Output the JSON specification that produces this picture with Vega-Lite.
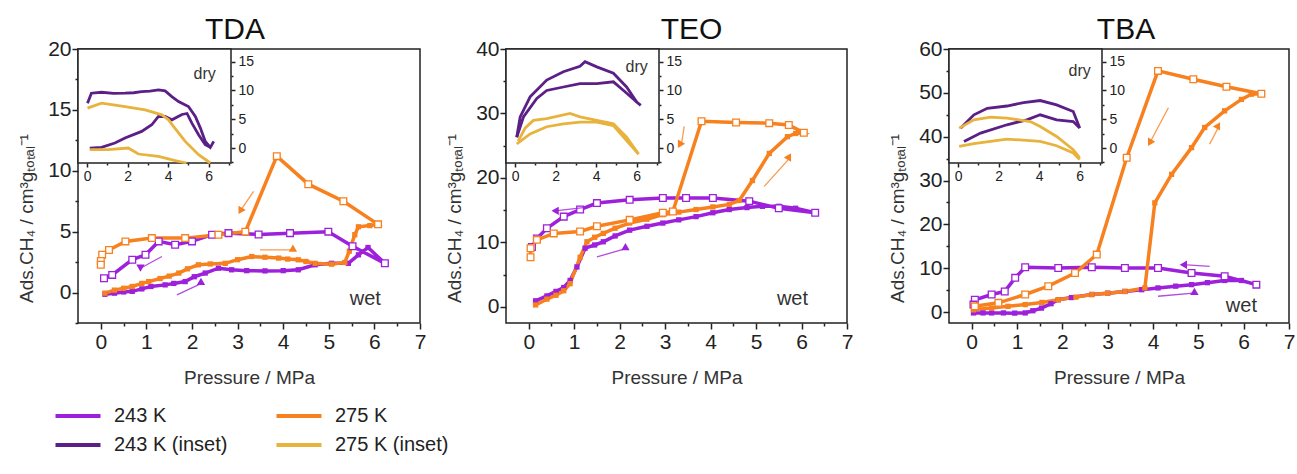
{
"$schema": "https://vega.github.io/schema/vega-lite/v6.json",
"background": "white",
"padding": {"left": 16, "top": 14, "right": 0, "bottom": 5},
"config": {
  "font": "Liberation Sans",
  "view": {"stroke": "#222", "strokeWidth": 1.5},
  "axis": {"grid": false, "domain": false, "labelFont": "Liberation Sans", "titleFont": "Liberation Sans", "labelColor": "#222", "titleColor": "#333", "tickColor": "#222", "tickWidth": 1.5, "titleFontWeight": "normal", "labelOverlap": false, "labelFlush": false},
  "title": {"font": "Liberation Sans", "fontWeight": "normal", "fontSize": 30, "color": "#111", "frame": "group", "offset": -7}
},
"datasets": {
"main": [
{"panel":"TDA","series":"243 K","branch":"ads","idx":0,"x":0.09,"y":-0.14},
{"panel":"TDA","series":"243 K","branch":"ads","idx":1,"x":0.3,"y":-0.05},
{"panel":"TDA","series":"243 K","branch":"ads","idx":2,"x":0.5,"y":0.05},
{"panel":"TDA","series":"243 K","branch":"ads","idx":3,"x":0.69,"y":0.1},
{"panel":"TDA","series":"243 K","branch":"ads","idx":4,"x":0.9,"y":0.3},
{"panel":"TDA","series":"243 K","branch":"ads","idx":5,"x":1.1,"y":0.5},
{"panel":"TDA","series":"243 K","branch":"ads","idx":6,"x":1.41,"y":0.63},
{"panel":"TDA","series":"243 K","branch":"ads","idx":7,"x":1.6,"y":0.75},
{"panel":"TDA","series":"243 K","branch":"ads","idx":8,"x":1.85,"y":0.9},
{"panel":"TDA","series":"243 K","branch":"ads","idx":9,"x":2.05,"y":1.3},
{"panel":"TDA","series":"243 K","branch":"ads","idx":10,"x":2.29,"y":1.6},
{"panel":"TDA","series":"243 K","branch":"ads","idx":11,"x":2.58,"y":2.0},
{"panel":"TDA","series":"243 K","branch":"ads","idx":12,"x":2.87,"y":1.87},
{"panel":"TDA","series":"243 K","branch":"ads","idx":13,"x":3.2,"y":1.8},
{"panel":"TDA","series":"243 K","branch":"ads","idx":14,"x":3.6,"y":1.78},
{"panel":"TDA","series":"243 K","branch":"ads","idx":15,"x":4.0,"y":1.8},
{"panel":"TDA","series":"243 K","branch":"ads","idx":16,"x":4.33,"y":1.87},
{"panel":"TDA","series":"243 K","branch":"ads","idx":17,"x":4.7,"y":2.28},
{"panel":"TDA","series":"243 K","branch":"ads","idx":18,"x":5.06,"y":2.4},
{"panel":"TDA","series":"243 K","branch":"ads","idx":19,"x":5.43,"y":2.4},
{"panel":"TDA","series":"243 K","branch":"ads","idx":20,"x":5.65,"y":3.1},
{"panel":"TDA","series":"243 K","branch":"ads","idx":21,"x":5.86,"y":3.7},
{"panel":"TDA","series":"243 K","branch":"des","idx":22,"x":6.23,"y":2.4},
{"panel":"TDA","series":"243 K","branch":"des","idx":23,"x":5.52,"y":3.8},
{"panel":"TDA","series":"243 K","branch":"des","idx":24,"x":4.99,"y":5.0},
{"panel":"TDA","series":"243 K","branch":"des","idx":25,"x":4.15,"y":4.88},
{"panel":"TDA","series":"243 K","branch":"des","idx":26,"x":3.46,"y":4.77},
{"panel":"TDA","series":"243 K","branch":"des","idx":27,"x":2.8,"y":4.88},
{"panel":"TDA","series":"243 K","branch":"des","idx":28,"x":2.44,"y":4.75},
{"panel":"TDA","series":"243 K","branch":"des","idx":29,"x":2.0,"y":4.2},
{"panel":"TDA","series":"243 K","branch":"des","idx":30,"x":1.63,"y":3.92},
{"panel":"TDA","series":"243 K","branch":"des","idx":31,"x":1.27,"y":4.2},
{"panel":"TDA","series":"243 K","branch":"des","idx":32,"x":0.98,"y":3.1},
{"panel":"TDA","series":"243 K","branch":"des","idx":33,"x":0.69,"y":2.7},
{"panel":"TDA","series":"243 K","branch":"des","idx":34,"x":0.25,"y":1.45},
{"panel":"TDA","series":"243 K","branch":"des","idx":35,"x":0.07,"y":1.18},
{"panel":"TDA","series":"275 K","branch":"ads","idx":0,"x":0.09,"y":-0.05},
{"panel":"TDA","series":"275 K","branch":"ads","idx":1,"x":0.3,"y":0.2},
{"panel":"TDA","series":"275 K","branch":"ads","idx":2,"x":0.5,"y":0.35},
{"panel":"TDA","series":"275 K","branch":"ads","idx":3,"x":0.69,"y":0.5},
{"panel":"TDA","series":"275 K","branch":"ads","idx":4,"x":0.9,"y":0.75},
{"panel":"TDA","series":"275 K","branch":"ads","idx":5,"x":1.05,"y":0.9},
{"panel":"TDA","series":"275 K","branch":"ads","idx":6,"x":1.3,"y":1.15},
{"panel":"TDA","series":"275 K","branch":"ads","idx":7,"x":1.5,"y":1.35},
{"panel":"TDA","series":"275 K","branch":"ads","idx":8,"x":1.71,"y":1.6},
{"panel":"TDA","series":"275 K","branch":"ads","idx":9,"x":1.9,"y":1.95},
{"panel":"TDA","series":"275 K","branch":"ads","idx":10,"x":2.14,"y":2.28},
{"panel":"TDA","series":"275 K","branch":"ads","idx":11,"x":2.4,"y":2.35},
{"panel":"TDA","series":"275 K","branch":"ads","idx":12,"x":2.73,"y":2.4},
{"panel":"TDA","series":"275 K","branch":"ads","idx":13,"x":3.0,"y":2.7},
{"panel":"TDA","series":"275 K","branch":"ads","idx":14,"x":3.31,"y":2.96},
{"panel":"TDA","series":"275 K","branch":"ads","idx":15,"x":3.6,"y":2.9},
{"panel":"TDA","series":"275 K","branch":"ads","idx":16,"x":3.9,"y":2.83},
{"panel":"TDA","series":"275 K","branch":"ads","idx":17,"x":4.1,"y":2.75},
{"panel":"TDA","series":"275 K","branch":"ads","idx":18,"x":4.33,"y":2.69},
{"panel":"TDA","series":"275 K","branch":"ads","idx":19,"x":4.5,"y":2.55},
{"panel":"TDA","series":"275 K","branch":"ads","idx":20,"x":4.7,"y":2.4},
{"panel":"TDA","series":"275 K","branch":"ads","idx":21,"x":5.06,"y":2.33},
{"panel":"TDA","series":"275 K","branch":"ads","idx":22,"x":5.35,"y":2.47},
{"panel":"TDA","series":"275 K","branch":"ads","idx":23,"x":5.45,"y":3.4},
{"panel":"TDA","series":"275 K","branch":"ads","idx":24,"x":5.57,"y":4.75},
{"panel":"TDA","series":"275 K","branch":"ads","idx":25,"x":5.65,"y":5.4},
{"panel":"TDA","series":"275 K","branch":"ads","idx":26,"x":5.9,"y":5.5},
{"panel":"TDA","series":"275 K","branch":"des","idx":27,"x":6.08,"y":5.6},
{"panel":"TDA","series":"275 K","branch":"des","idx":28,"x":5.32,"y":7.5},
{"panel":"TDA","series":"275 K","branch":"des","idx":29,"x":4.55,"y":8.9},
{"panel":"TDA","series":"275 K","branch":"des","idx":30,"x":3.86,"y":11.2},
{"panel":"TDA","series":"275 K","branch":"des","idx":31,"x":3.17,"y":5.0},
{"panel":"TDA","series":"275 K","branch":"des","idx":32,"x":2.58,"y":4.75},
{"panel":"TDA","series":"275 K","branch":"des","idx":33,"x":1.85,"y":4.47},
{"panel":"TDA","series":"275 K","branch":"des","idx":34,"x":1.12,"y":4.47},
{"panel":"TDA","series":"275 K","branch":"des","idx":35,"x":0.54,"y":4.2},
{"panel":"TDA","series":"275 K","branch":"des","idx":36,"x":0.18,"y":3.5},
{"panel":"TDA","series":"275 K","branch":"des","idx":37,"x":0.03,"y":3.1},
{"panel":"TDA","series":"275 K","branch":"des","idx":38,"x":0.0,"y":2.6},
{"panel":"TDA","series":"275 K","branch":"des","idx":39,"x":0.0,"y":2.28},
{"panel":"TEO","series":"243 K","branch":"ads","idx":0,"x":0.15,"y":0.94},
{"panel":"TEO","series":"243 K","branch":"ads","idx":1,"x":0.4,"y":1.7},
{"panel":"TEO","series":"243 K","branch":"ads","idx":2,"x":0.6,"y":2.4},
{"panel":"TEO","series":"243 K","branch":"ads","idx":3,"x":0.77,"y":3.0},
{"panel":"TEO","series":"243 K","branch":"ads","idx":4,"x":0.91,"y":4.1},
{"panel":"TEO","series":"243 K","branch":"ads","idx":5,"x":1.06,"y":6.2},
{"panel":"TEO","series":"243 K","branch":"ads","idx":6,"x":1.24,"y":9.1},
{"panel":"TEO","series":"243 K","branch":"ads","idx":7,"x":1.45,"y":9.6},
{"panel":"TEO","series":"243 K","branch":"ads","idx":8,"x":1.64,"y":10.1},
{"panel":"TEO","series":"243 K","branch":"ads","idx":9,"x":1.9,"y":11.0},
{"panel":"TEO","series":"243 K","branch":"ads","idx":10,"x":2.22,"y":11.9},
{"panel":"TEO","series":"243 K","branch":"ads","idx":11,"x":2.6,"y":12.5},
{"panel":"TEO","series":"243 K","branch":"ads","idx":12,"x":2.95,"y":13.0},
{"panel":"TEO","series":"243 K","branch":"ads","idx":13,"x":3.3,"y":13.5},
{"panel":"TEO","series":"243 K","branch":"ads","idx":14,"x":3.68,"y":14.0},
{"panel":"TEO","series":"243 K","branch":"ads","idx":15,"x":4.05,"y":14.6},
{"panel":"TEO","series":"243 K","branch":"ads","idx":16,"x":4.41,"y":15.1},
{"panel":"TEO","series":"243 K","branch":"ads","idx":17,"x":4.8,"y":15.4},
{"panel":"TEO","series":"243 K","branch":"ads","idx":18,"x":5.14,"y":15.6},
{"panel":"TEO","series":"243 K","branch":"ads","idx":19,"x":5.5,"y":15.6},
{"panel":"TEO","series":"243 K","branch":"ads","idx":20,"x":5.87,"y":15.3},
{"panel":"TEO","series":"243 K","branch":"des","idx":21,"x":6.3,"y":14.6},
{"panel":"TEO","series":"243 K","branch":"des","idx":22,"x":5.5,"y":15.3},
{"panel":"TEO","series":"243 K","branch":"des","idx":23,"x":4.85,"y":16.4},
{"panel":"TEO","series":"243 K","branch":"des","idx":24,"x":4.05,"y":16.9},
{"panel":"TEO","series":"243 K","branch":"des","idx":25,"x":3.46,"y":16.9},
{"panel":"TEO","series":"243 K","branch":"des","idx":26,"x":2.95,"y":16.9},
{"panel":"TEO","series":"243 K","branch":"des","idx":27,"x":2.22,"y":16.6},
{"panel":"TEO","series":"243 K","branch":"des","idx":28,"x":1.5,"y":16.1},
{"panel":"TEO","series":"243 K","branch":"des","idx":29,"x":1.13,"y":15.1},
{"panel":"TEO","series":"243 K","branch":"des","idx":30,"x":0.77,"y":14.0},
{"panel":"TEO","series":"243 K","branch":"des","idx":31,"x":0.4,"y":12.2},
{"panel":"TEO","series":"243 K","branch":"des","idx":32,"x":0.18,"y":10.6},
{"panel":"TEO","series":"243 K","branch":"des","idx":33,"x":0.07,"y":9.3},
{"panel":"TEO","series":"275 K","branch":"ads","idx":0,"x":0.15,"y":0.3},
{"panel":"TEO","series":"275 K","branch":"ads","idx":1,"x":0.4,"y":1.2},
{"panel":"TEO","series":"275 K","branch":"ads","idx":2,"x":0.6,"y":1.8},
{"panel":"TEO","series":"275 K","branch":"ads","idx":3,"x":0.77,"y":2.5},
{"panel":"TEO","series":"275 K","branch":"ads","idx":4,"x":0.91,"y":3.6},
{"panel":"TEO","series":"275 K","branch":"ads","idx":5,"x":1.13,"y":7.7},
{"panel":"TEO","series":"275 K","branch":"ads","idx":6,"x":1.28,"y":10.1},
{"panel":"TEO","series":"275 K","branch":"ads","idx":7,"x":1.45,"y":10.8},
{"panel":"TEO","series":"275 K","branch":"ads","idx":8,"x":1.64,"y":11.4},
{"panel":"TEO","series":"275 K","branch":"ads","idx":9,"x":1.9,"y":12.2},
{"panel":"TEO","series":"275 K","branch":"ads","idx":10,"x":2.22,"y":13.0},
{"panel":"TEO","series":"275 K","branch":"ads","idx":11,"x":2.6,"y":13.6},
{"panel":"TEO","series":"275 K","branch":"ads","idx":12,"x":2.95,"y":14.3},
{"panel":"TEO","series":"275 K","branch":"ads","idx":13,"x":3.3,"y":14.7},
{"panel":"TEO","series":"275 K","branch":"ads","idx":14,"x":3.68,"y":15.1},
{"panel":"TEO","series":"275 K","branch":"ads","idx":15,"x":4.05,"y":15.5},
{"panel":"TEO","series":"275 K","branch":"ads","idx":16,"x":4.41,"y":15.9},
{"panel":"TEO","series":"275 K","branch":"ads","idx":17,"x":4.63,"y":16.5},
{"panel":"TEO","series":"275 K","branch":"ads","idx":18,"x":4.92,"y":19.6},
{"panel":"TEO","series":"275 K","branch":"ads","idx":19,"x":5.29,"y":23.8},
{"panel":"TEO","series":"275 K","branch":"ads","idx":20,"x":5.69,"y":26.4},
{"panel":"TEO","series":"275 K","branch":"ads","idx":21,"x":5.87,"y":26.9},
{"panel":"TEO","series":"275 K","branch":"des","idx":22,"x":6.05,"y":27.0},
{"panel":"TEO","series":"275 K","branch":"des","idx":23,"x":5.72,"y":28.2},
{"panel":"TEO","series":"275 K","branch":"des","idx":24,"x":5.29,"y":28.5},
{"panel":"TEO","series":"275 K","branch":"des","idx":25,"x":4.56,"y":28.6},
{"panel":"TEO","series":"275 K","branch":"des","idx":26,"x":3.8,"y":28.8},
{"panel":"TEO","series":"275 K","branch":"des","idx":27,"x":3.17,"y":14.8},
{"panel":"TEO","series":"275 K","branch":"des","idx":28,"x":2.95,"y":14.6},
{"panel":"TEO","series":"275 K","branch":"des","idx":29,"x":2.22,"y":13.5},
{"panel":"TEO","series":"275 K","branch":"des","idx":30,"x":1.5,"y":12.5},
{"panel":"TEO","series":"275 K","branch":"des","idx":31,"x":1.13,"y":11.7},
{"panel":"TEO","series":"275 K","branch":"des","idx":32,"x":0.55,"y":11.4},
{"panel":"TEO","series":"275 K","branch":"des","idx":33,"x":0.18,"y":10.4},
{"panel":"TEO","series":"275 K","branch":"des","idx":34,"x":0.04,"y":9.1},
{"panel":"TEO","series":"275 K","branch":"des","idx":35,"x":0.04,"y":7.7},
{"panel":"TBA","series":"243 K","branch":"ads","idx":0,"x":0.04,"y":-0.2},
{"panel":"TBA","series":"243 K","branch":"ads","idx":1,"x":0.25,"y":-0.2},
{"panel":"TBA","series":"243 K","branch":"ads","idx":2,"x":0.44,"y":-0.2},
{"panel":"TBA","series":"243 K","branch":"ads","idx":3,"x":0.7,"y":-0.2},
{"panel":"TBA","series":"243 K","branch":"ads","idx":4,"x":0.95,"y":-0.25},
{"panel":"TBA","series":"243 K","branch":"ads","idx":5,"x":1.18,"y":-0.2},
{"panel":"TBA","series":"243 K","branch":"ads","idx":6,"x":1.35,"y":0.3},
{"panel":"TBA","series":"243 K","branch":"ads","idx":7,"x":1.54,"y":0.9},
{"panel":"TBA","series":"243 K","branch":"ads","idx":8,"x":1.75,"y":1.9},
{"panel":"TBA","series":"243 K","branch":"ads","idx":9,"x":1.91,"y":2.8},
{"panel":"TBA","series":"243 K","branch":"ads","idx":10,"x":2.2,"y":3.3},
{"panel":"TBA","series":"243 K","branch":"ads","idx":11,"x":2.65,"y":4.0},
{"panel":"TBA","series":"243 K","branch":"ads","idx":12,"x":3.0,"y":4.3},
{"panel":"TBA","series":"243 K","branch":"ads","idx":13,"x":3.38,"y":4.7},
{"panel":"TBA","series":"243 K","branch":"ads","idx":14,"x":3.75,"y":5.1},
{"panel":"TBA","series":"243 K","branch":"ads","idx":15,"x":4.11,"y":5.5},
{"panel":"TBA","series":"243 K","branch":"ads","idx":16,"x":4.5,"y":5.9},
{"panel":"TBA","series":"243 K","branch":"ads","idx":17,"x":4.85,"y":6.25},
{"panel":"TBA","series":"243 K","branch":"ads","idx":18,"x":5.2,"y":6.7},
{"panel":"TBA","series":"243 K","branch":"ads","idx":19,"x":5.58,"y":7.2},
{"panel":"TBA","series":"243 K","branch":"ads","idx":20,"x":5.95,"y":7.2},
{"panel":"TBA","series":"243 K","branch":"des","idx":21,"x":6.28,"y":6.25},
{"panel":"TBA","series":"243 K","branch":"des","idx":22,"x":5.58,"y":8.15},
{"panel":"TBA","series":"243 K","branch":"des","idx":23,"x":4.85,"y":8.9},
{"panel":"TBA","series":"243 K","branch":"des","idx":24,"x":4.11,"y":10.06},
{"panel":"TBA","series":"243 K","branch":"des","idx":25,"x":3.38,"y":10.06},
{"panel":"TBA","series":"243 K","branch":"des","idx":26,"x":2.65,"y":10.2},
{"panel":"TBA","series":"243 K","branch":"des","idx":27,"x":1.91,"y":10.06},
{"panel":"TBA","series":"243 K","branch":"des","idx":28,"x":1.18,"y":10.2},
{"panel":"TBA","series":"243 K","branch":"des","idx":29,"x":0.96,"y":7.8},
{"panel":"TBA","series":"243 K","branch":"des","idx":30,"x":0.73,"y":4.7},
{"panel":"TBA","series":"243 K","branch":"des","idx":31,"x":0.44,"y":4.0},
{"panel":"TBA","series":"243 K","branch":"des","idx":32,"x":0.07,"y":2.8},
{"panel":"TBA","series":"243 K","branch":"des","idx":33,"x":0.04,"y":1.7},
{"panel":"TBA","series":"275 K","branch":"ads","idx":0,"x":0.04,"y":0.5},
{"panel":"TBA","series":"275 K","branch":"ads","idx":1,"x":0.44,"y":0.9},
{"panel":"TBA","series":"275 K","branch":"ads","idx":2,"x":0.8,"y":1.3},
{"panel":"TBA","series":"275 K","branch":"ads","idx":3,"x":1.18,"y":1.7},
{"panel":"TBA","series":"275 K","branch":"ads","idx":4,"x":1.55,"y":2.2},
{"panel":"TBA","series":"275 K","branch":"ads","idx":5,"x":1.91,"y":2.8},
{"panel":"TBA","series":"275 K","branch":"ads","idx":6,"x":2.3,"y":3.4},
{"panel":"TBA","series":"275 K","branch":"ads","idx":7,"x":2.65,"y":4.0},
{"panel":"TBA","series":"275 K","branch":"ads","idx":8,"x":3.0,"y":4.3},
{"panel":"TBA","series":"275 K","branch":"ads","idx":9,"x":3.38,"y":4.7},
{"panel":"TBA","series":"275 K","branch":"ads","idx":10,"x":3.82,"y":5.5},
{"panel":"TBA","series":"275 K","branch":"ads","idx":11,"x":4.04,"y":24.9},
{"panel":"TBA","series":"275 K","branch":"ads","idx":12,"x":4.41,"y":31.4},
{"panel":"TBA","series":"275 K","branch":"ads","idx":13,"x":4.85,"y":37.5},
{"panel":"TBA","series":"275 K","branch":"ads","idx":14,"x":5.14,"y":42.1},
{"panel":"TBA","series":"275 K","branch":"ads","idx":15,"x":5.58,"y":45.9},
{"panel":"TBA","series":"275 K","branch":"ads","idx":16,"x":5.95,"y":48.5},
{"panel":"TBA","series":"275 K","branch":"ads","idx":17,"x":6.17,"y":49.7},
{"panel":"TBA","series":"275 K","branch":"des","idx":18,"x":6.39,"y":49.8},
{"panel":"TBA","series":"275 K","branch":"des","idx":19,"x":5.62,"y":51.4},
{"panel":"TBA","series":"275 K","branch":"des","idx":20,"x":4.89,"y":53.1},
{"panel":"TBA","series":"275 K","branch":"des","idx":21,"x":4.11,"y":55.0},
{"panel":"TBA","series":"275 K","branch":"des","idx":22,"x":3.42,"y":35.2},
{"panel":"TBA","series":"275 K","branch":"des","idx":23,"x":2.76,"y":13.1},
{"panel":"TBA","series":"275 K","branch":"des","idx":24,"x":2.28,"y":8.9},
{"panel":"TBA","series":"275 K","branch":"des","idx":25,"x":1.69,"y":5.9},
{"panel":"TBA","series":"275 K","branch":"des","idx":26,"x":1.18,"y":4.0},
{"panel":"TBA","series":"275 K","branch":"des","idx":27,"x":0.59,"y":2.1},
{"panel":"TBA","series":"275 K","branch":"des","idx":28,"x":0.07,"y":1.3}
],
"inset": [
{"panel":"TDA","series":"243 K (inset)","branch":"upper","idx":0,"x":0.02,"y":7.79},
{"panel":"TDA","series":"243 K (inset)","branch":"upper","idx":1,"x":0.21,"y":9.52},
{"panel":"TDA","series":"243 K (inset)","branch":"upper","idx":2,"x":0.71,"y":9.69},
{"panel":"TDA","series":"243 K (inset)","branch":"upper","idx":3,"x":1.3,"y":9.5},
{"panel":"TDA","series":"243 K (inset)","branch":"upper","idx":4,"x":1.87,"y":9.52},
{"panel":"TDA","series":"243 K (inset)","branch":"upper","idx":5,"x":2.3,"y":9.6},
{"panel":"TDA","series":"243 K (inset)","branch":"upper","idx":6,"x":2.69,"y":9.81},
{"panel":"TDA","series":"243 K (inset)","branch":"upper","idx":7,"x":3.1,"y":9.9},
{"panel":"TDA","series":"243 K (inset)","branch":"upper","idx":8,"x":3.52,"y":10.1},
{"panel":"TDA","series":"243 K (inset)","branch":"upper","idx":9,"x":3.85,"y":9.92},
{"panel":"TDA","series":"243 K (inset)","branch":"upper","idx":10,"x":4.18,"y":8.94},
{"panel":"TDA","series":"243 K (inset)","branch":"upper","idx":11,"x":4.51,"y":8.08},
{"panel":"TDA","series":"243 K (inset)","branch":"upper","idx":12,"x":5.0,"y":7.21},
{"panel":"TDA","series":"243 K (inset)","branch":"upper","idx":13,"x":5.34,"y":5.48},
{"panel":"TDA","series":"243 K (inset)","branch":"upper","idx":14,"x":5.59,"y":3.46},
{"panel":"TDA","series":"243 K (inset)","branch":"upper","idx":15,"x":5.83,"y":1.15},
{"panel":"TDA","series":"243 K (inset)","branch":"upper","idx":16,"x":6.08,"y":0.12},
{"panel":"TDA","series":"243 K (inset)","branch":"upper","idx":17,"x":6.25,"y":1.15},
{"panel":"TDA","series":"243 K (inset)","branch":"lower","idx":0,"x":0.13,"y":0},
{"panel":"TDA","series":"243 K (inset)","branch":"lower","idx":1,"x":0.71,"y":0.12},
{"panel":"TDA","series":"243 K (inset)","branch":"lower","idx":2,"x":1.37,"y":0.87},
{"panel":"TDA","series":"243 K (inset)","branch":"lower","idx":3,"x":1.87,"y":1.73},
{"panel":"TDA","series":"243 K (inset)","branch":"lower","idx":4,"x":2.69,"y":2.89},
{"panel":"TDA","series":"243 K (inset)","branch":"lower","idx":5,"x":3.19,"y":4.04},
{"panel":"TDA","series":"243 K (inset)","branch":"lower","idx":6,"x":3.52,"y":5.48},
{"panel":"TDA","series":"243 K (inset)","branch":"lower","idx":7,"x":3.85,"y":5.48},
{"panel":"TDA","series":"243 K (inset)","branch":"lower","idx":8,"x":4.18,"y":4.9},
{"panel":"TDA","series":"243 K (inset)","branch":"lower","idx":9,"x":4.68,"y":5.83},
{"panel":"TDA","series":"243 K (inset)","branch":"lower","idx":10,"x":4.93,"y":6.0},
{"panel":"TDA","series":"243 K (inset)","branch":"lower","idx":11,"x":5.17,"y":4.33},
{"panel":"TDA","series":"243 K (inset)","branch":"lower","idx":12,"x":5.5,"y":2.31},
{"panel":"TDA","series":"243 K (inset)","branch":"lower","idx":13,"x":5.83,"y":0.58},
{"panel":"TDA","series":"243 K (inset)","branch":"lower","idx":14,"x":6.08,"y":0.12},
{"panel":"TDA","series":"275 K (inset)","branch":"upper","idx":0,"x":0.02,"y":6.92},
{"panel":"TDA","series":"275 K (inset)","branch":"upper","idx":1,"x":0.71,"y":7.79},
{"panel":"TDA","series":"275 K (inset)","branch":"upper","idx":2,"x":1.3,"y":7.5},
{"panel":"TDA","series":"275 K (inset)","branch":"upper","idx":3,"x":1.87,"y":7.21},
{"panel":"TDA","series":"275 K (inset)","branch":"upper","idx":4,"x":2.86,"y":6.64},
{"panel":"TDA","series":"275 K (inset)","branch":"upper","idx":5,"x":3.69,"y":5.77},
{"panel":"TDA","series":"275 K (inset)","branch":"upper","idx":6,"x":4.02,"y":4.9},
{"panel":"TDA","series":"275 K (inset)","branch":"upper","idx":7,"x":4.26,"y":3.75},
{"panel":"TDA","series":"275 K (inset)","branch":"upper","idx":8,"x":4.84,"y":1.15},
{"panel":"TDA","series":"275 K (inset)","branch":"upper","idx":9,"x":5.5,"y":-1.15},
{"panel":"TDA","series":"275 K (inset)","branch":"upper","idx":10,"x":6.08,"y":-2.6},
{"panel":"TDA","series":"275 K (inset)","branch":"lower","idx":0,"x":0.13,"y":-0.29},
{"panel":"TDA","series":"275 K (inset)","branch":"lower","idx":1,"x":1.04,"y":-0.29},
{"panel":"TDA","series":"275 K (inset)","branch":"lower","idx":2,"x":2.03,"y":0},
{"panel":"TDA","series":"275 K (inset)","branch":"lower","idx":3,"x":2.53,"y":-1.04},
{"panel":"TDA","series":"275 K (inset)","branch":"lower","idx":4,"x":3.52,"y":-1.44},
{"panel":"TDA","series":"275 K (inset)","branch":"lower","idx":5,"x":4.35,"y":-2.19},
{"panel":"TDA","series":"275 K (inset)","branch":"lower","idx":6,"x":4.9,"y":-2.6},
{"panel":"TEO","series":"243 K (inset)","branch":"upper","idx":0,"x":0.08,"y":1.87},
{"panel":"TEO","series":"243 K (inset)","branch":"upper","idx":1,"x":0.25,"y":5.4},
{"panel":"TEO","series":"243 K (inset)","branch":"upper","idx":2,"x":0.74,"y":8.9},
{"panel":"TEO","series":"243 K (inset)","branch":"upper","idx":3,"x":1.56,"y":11.8},
{"panel":"TEO","series":"243 K (inset)","branch":"upper","idx":4,"x":2.38,"y":13.25},
{"panel":"TEO","series":"243 K (inset)","branch":"upper","idx":5,"x":3.2,"y":14.2},
{"panel":"TEO","series":"243 K (inset)","branch":"upper","idx":6,"x":3.45,"y":15.0},
{"panel":"TEO","series":"243 K (inset)","branch":"upper","idx":7,"x":4.03,"y":14.1},
{"panel":"TEO","series":"243 K (inset)","branch":"upper","idx":8,"x":4.85,"y":13.0},
{"panel":"TEO","series":"243 K (inset)","branch":"upper","idx":9,"x":5.5,"y":10.6},
{"panel":"TEO","series":"243 K (inset)","branch":"upper","idx":10,"x":6.0,"y":8.0},
{"panel":"TEO","series":"243 K (inset)","branch":"upper","idx":11,"x":6.2,"y":7.4},
{"panel":"TEO","series":"243 K (inset)","branch":"lower","idx":0,"x":0.08,"y":1.87},
{"panel":"TEO","series":"243 K (inset)","branch":"lower","idx":1,"x":0.41,"y":5.4},
{"panel":"TEO","series":"243 K (inset)","branch":"lower","idx":2,"x":1.07,"y":8.6},
{"panel":"TEO","series":"243 K (inset)","branch":"lower","idx":3,"x":1.56,"y":10.0},
{"panel":"TEO","series":"243 K (inset)","branch":"lower","idx":4,"x":2.38,"y":10.6},
{"panel":"TEO","series":"243 K (inset)","branch":"lower","idx":5,"x":3.2,"y":11.2},
{"panel":"TEO","series":"243 K (inset)","branch":"lower","idx":6,"x":4.03,"y":11.2},
{"panel":"TEO","series":"243 K (inset)","branch":"lower","idx":7,"x":4.85,"y":11.5},
{"panel":"TEO","series":"243 K (inset)","branch":"lower","idx":8,"x":5.35,"y":10.0},
{"panel":"TEO","series":"243 K (inset)","branch":"lower","idx":9,"x":6.0,"y":8.0},
{"panel":"TEO","series":"275 K (inset)","branch":"upper","idx":0,"x":0.15,"y":1.2},
{"panel":"TEO","series":"275 K (inset)","branch":"upper","idx":1,"x":0.5,"y":3.5},
{"panel":"TEO","series":"275 K (inset)","branch":"upper","idx":2,"x":0.9,"y":4.8},
{"panel":"TEO","series":"275 K (inset)","branch":"upper","idx":3,"x":1.56,"y":5.1},
{"panel":"TEO","series":"275 K (inset)","branch":"upper","idx":4,"x":2.71,"y":6.0},
{"panel":"TEO","series":"275 K (inset)","branch":"upper","idx":5,"x":3.2,"y":5.4},
{"panel":"TEO","series":"275 K (inset)","branch":"upper","idx":6,"x":4.03,"y":4.8},
{"panel":"TEO","series":"275 K (inset)","branch":"upper","idx":7,"x":4.85,"y":4.2},
{"panel":"TEO","series":"275 K (inset)","branch":"upper","idx":8,"x":5.5,"y":1.9},
{"panel":"TEO","series":"275 K (inset)","branch":"upper","idx":9,"x":6.09,"y":-1.05},
{"panel":"TEO","series":"275 K (inset)","branch":"lower","idx":0,"x":0.08,"y":0.7},
{"panel":"TEO","series":"275 K (inset)","branch":"lower","idx":1,"x":0.74,"y":2.45},
{"panel":"TEO","series":"275 K (inset)","branch":"lower","idx":2,"x":1.56,"y":3.7},
{"panel":"TEO","series":"275 K (inset)","branch":"lower","idx":3,"x":2.38,"y":4.2},
{"panel":"TEO","series":"275 K (inset)","branch":"lower","idx":4,"x":3.2,"y":4.5},
{"panel":"TEO","series":"275 K (inset)","branch":"lower","idx":5,"x":4.03,"y":4.5},
{"panel":"TEO","series":"275 K (inset)","branch":"lower","idx":6,"x":4.85,"y":3.9},
{"panel":"TEO","series":"275 K (inset)","branch":"lower","idx":7,"x":5.5,"y":1.3},
{"panel":"TEO","series":"275 K (inset)","branch":"lower","idx":8,"x":6.09,"y":-1.05},
{"panel":"TBA","series":"243 K (inset)","branch":"upper","idx":0,"x":0.13,"y":3.46},
{"panel":"TBA","series":"243 K (inset)","branch":"upper","idx":1,"x":0.78,"y":5.77},
{"panel":"TBA","series":"243 K (inset)","branch":"upper","idx":2,"x":1.44,"y":6.9},
{"panel":"TBA","series":"243 K (inset)","branch":"upper","idx":3,"x":2.41,"y":7.3},
{"panel":"TBA","series":"243 K (inset)","branch":"upper","idx":4,"x":3.23,"y":7.9},
{"panel":"TBA","series":"243 K (inset)","branch":"upper","idx":5,"x":4.05,"y":8.25},
{"panel":"TBA","series":"243 K (inset)","branch":"upper","idx":6,"x":4.86,"y":7.5},
{"panel":"TBA","series":"243 K (inset)","branch":"upper","idx":7,"x":5.68,"y":6.35},
{"panel":"TBA","series":"243 K (inset)","branch":"upper","idx":8,"x":6.0,"y":3.46},
{"panel":"TBA","series":"243 K (inset)","branch":"lower","idx":0,"x":0.29,"y":1.15},
{"panel":"TBA","series":"243 K (inset)","branch":"lower","idx":1,"x":1.11,"y":2.6},
{"panel":"TBA","series":"243 K (inset)","branch":"lower","idx":2,"x":2.41,"y":4.04},
{"panel":"TBA","series":"243 K (inset)","branch":"lower","idx":3,"x":3.39,"y":4.9},
{"panel":"TBA","series":"243 K (inset)","branch":"lower","idx":4,"x":4.05,"y":5.77},
{"panel":"TBA","series":"243 K (inset)","branch":"lower","idx":5,"x":4.86,"y":4.9},
{"panel":"TBA","series":"243 K (inset)","branch":"lower","idx":6,"x":5.68,"y":4.6},
{"panel":"TBA","series":"243 K (inset)","branch":"lower","idx":7,"x":6.0,"y":3.46},
{"panel":"TBA","series":"275 K (inset)","branch":"upper","idx":0,"x":0.05,"y":3.46},
{"panel":"TBA","series":"275 K (inset)","branch":"upper","idx":1,"x":0.78,"y":4.9},
{"panel":"TBA","series":"275 K (inset)","branch":"upper","idx":2,"x":1.6,"y":5.37},
{"panel":"TBA","series":"275 K (inset)","branch":"upper","idx":3,"x":2.41,"y":5.2},
{"panel":"TBA","series":"275 K (inset)","branch":"upper","idx":4,"x":3.56,"y":4.6},
{"panel":"TBA","series":"275 K (inset)","branch":"upper","idx":5,"x":4.05,"y":3.75},
{"panel":"TBA","series":"275 K (inset)","branch":"upper","idx":6,"x":4.86,"y":2.0},
{"panel":"TBA","series":"275 K (inset)","branch":"upper","idx":7,"x":5.68,"y":-0.3},
{"panel":"TBA","series":"275 K (inset)","branch":"upper","idx":8,"x":6.0,"y":-1.7},
{"panel":"TBA","series":"275 K (inset)","branch":"lower","idx":0,"x":0.05,"y":0.3},
{"panel":"TBA","series":"275 K (inset)","branch":"lower","idx":1,"x":0.78,"y":0.75},
{"panel":"TBA","series":"275 K (inset)","branch":"lower","idx":2,"x":2.41,"y":1.56},
{"panel":"TBA","series":"275 K (inset)","branch":"lower","idx":3,"x":4.05,"y":1.15},
{"panel":"TBA","series":"275 K (inset)","branch":"lower","idx":4,"x":4.86,"y":0.4},
{"panel":"TBA","series":"275 K (inset)","branch":"lower","idx":5,"x":5.68,"y":-0.87},
{"panel":"TBA","series":"275 K (inset)","branch":"lower","idx":6,"x":6.0,"y":-2.0}
],
"arrows": [
{"panel":"TDA","series":"275 K","x":3.35,"y":8.3,"x2":3.06,"y2":6.7,"dir":"down-left"},
{"panel":"TDA","series":"275 K","x":3.49,"y":3.5,"x2":4.19,"y2":3.5,"dir":"right"},
{"panel":"TDA","series":"243 K","x":1.34,"y":2.96,"x2":0.87,"y2":2.0,"dir":"left-down"},
{"panel":"TDA","series":"243 K","x":1.67,"y":-0.19,"x2":2.22,"y2":0.77,"dir":"right-up"},
{"panel":"TEO","series":"243 K","x":1.2,"y":15.4,"x2":0.58,"y2":14.9,"dir":"left"},
{"panel":"TEO","series":"243 K","x":1.5,"y":7.75,"x2":2.15,"y2":9.06,"dir":"right-up"},
{"panel":"TEO","series":"275 K","x":5.18,"y":18.7,"x2":5.73,"y2":23.0,"dir":"up-right"},
{"panel":"TEO","series":"275 K","x":3.42,"y":28.0,"x2":3.36,"y2":25.3,"dir":"down"},
{"panel":"TBA","series":"275 K","x":4.34,"y":46.6,"x2":3.93,"y2":38.6,"dir":"down-left"},
{"panel":"TBA","series":"275 K","x":5.25,"y":38.3,"x2":5.44,"y2":42.1,"dir":"up-right"},
{"panel":"TBA","series":"243 K","x":5.25,"y":10.4,"x2":4.67,"y2":10.8,"dir":"left"},
{"panel":"TBA","series":"243 K","x":4.11,"y":3.6,"x2":4.89,"y2":4.3,"dir":"right"}
],
"notes": [
{"panel":"TDA","kind":"wet","label":"wet","x":5.8,"y":-0.5},
{"panel":"TEO","kind":"wet","label":"wet","x":5.8,"y":1.2},
{"panel":"TBA","kind":"wet","label":"wet","x":5.95,"y":1.3},
{"panel":"TDA","kind":"dry","label":"dry","x":5.8,"y":12.9},
{"panel":"TEO","kind":"dry","label":"dry","x":6.0,"y":14.1},
{"panel":"TBA","kind":"dry","label":"dry","x":6.0,"y":13.3}
],
"frame": [{"x": -0.45, "x2": 7.1, "y": -2.6, "y2": 17.2}],
"blank": [{"k": 1}]
},
"resolve": {"scale": {"color": "independent"}, "legend": {"color": "independent"}},
"spacing": 0,
"bounds": "flush",
"hconcat": [
{
"width": 342, "height": 274,
"title": {"text": "TDA", "dx": -14},
"resolve": {"scale": {"x": "independent", "y": "independent"}, "axis": {"x": "independent", "y": "independent"}},
"layer": [
{
"encoding": {
 "x": {"field": "x", "type": "quantitative", "scale": {"domain": [-0.5, 7], "nice": false, "zero": false},
   "axis": {"title": "Pressure / MPa", "values": [0,0.5,1,1.5,2,2.5,3,3.5,4,4.5,5,5.5,6,6.5,7], "labelExpr": "datum.value % 1 === 0 ? '' + datum.value : ''", "tickSize": {"condition": {"test": "datum.value % 1 === 0", "value": 6}, "value": 3}, "labelFontSize": 21, "titleFontSize": 19, "labelPadding": 2, "titlePadding": 16}},
 "y": {"field": "y", "type": "quantitative", "scale": {"domain": [-2.5, 20], "nice": false, "zero": false},
   "axis": {"title": "Ads.CH₄ / cm³gₜₒₜₐₗ⁻¹", "values": [-2.5,0,2.5,5,7.5,10,12.5,15,17.5,20], "labelExpr": "datum.value % 5 === 0 ? '' + datum.value : ''", "tickSize": {"condition": {"test": "datum.value % 5 === 0", "value": 6}, "value": 3}, "labelFontSize": 21, "titleFontSize": 19, "labelPadding": 1, "titlePadding": 11, "titleY": 169}}
},
"layer": [
 {"data": {"name": "main"}, "transform": [{"filter": "datum.panel === 'TDA'"}], "mark": {"type": "line", "strokeWidth": 3.5},
  "encoding": {"color": {"field": "series", "type": "nominal", "scale": {"domain": ["243 K","275 K","243 K (inset)","275 K (inset)"], "range": ["#9D20DA","#F7811F","#5B1F87","#E8B33D"]},
    "legend": {"orient": "none", "legendX": -17, "legendY": 350, "columns": 2, "title": null, "values": ["243 K","243 K (inset)","275 K","275 K (inset)"], "symbolType": "M-1.5,0H1.5", "symbolSize": 900, "symbolStrokeWidth": 4, "symbolFillColor": "transparent", "labelFontSize": 20, "labelFont": "Liberation Sans", "labelColor": "#222", "columnPadding": 40, "rowPadding": 2, "labelOffset": 19}},
   "order": {"field": "idx"}}},
 {"data": {"name": "main"}, "transform": [{"filter": "datum.panel === 'TDA' && datum.branch === 'ads'"}], "mark": {"type": "point", "shape": "square", "filled": true, "size": 28, "opacity": 1},
  "encoding": {"color": {"field": "series", "type": "nominal", "scale": {"domain": ["243 K","275 K","243 K (inset)","275 K (inset)"], "range": ["#9D20DA","#F7811F","#5B1F87","#E8B33D"]}, "legend": null}}},
 {"data": {"name": "main"}, "transform": [{"filter": "datum.panel === 'TDA' && datum.branch === 'des'"}], "mark": {"type": "point", "shape": "square", "filled": false, "fill": "white", "size": 45, "strokeWidth": 1.3, "opacity": 1},
  "encoding": {"color": {"field": "series", "type": "nominal", "scale": {"domain": ["243 K","275 K","243 K (inset)","275 K (inset)"], "range": ["#9D20DA","#F7811F","#5B1F87","#E8B33D"]}, "legend": null}}},
 {"data": {"name": "arrows"}, "transform": [{"filter": "datum.panel === 'TDA'"}], "mark": {"type": "rule", "strokeWidth": 1.3, "opacity": 0.8},
  "encoding": {"x2": {"field": "x2"}, "y2": {"field": "y2"}, "color": {"field": "series", "type": "nominal", "scale": {"domain": ["243 K","275 K","243 K (inset)","275 K (inset)"], "range": ["#9D20DA","#F7811F","#5B1F87","#E8B33D"]}, "legend": null}}},
 {"data": {"name": "arrows"}, "transform": [{"filter": "datum.panel === 'TDA'"}], "mark": {"type": "point", "shape": "triangle-up", "filled": true, "size": 70, "opacity": 1},
  "encoding": {"x": {"field": "x2", "type": "quantitative"}, "y": {"field": "y2", "type": "quantitative"},
   "angle": {"field": "dir", "type": "nominal", "scale": {"domain": ["left","right","down-left","left-down","up-right","right-up","down"], "range": [270, 90, 210, 240, 35, 68, 180]}, "legend": null},
   "color": {"field": "series", "type": "nominal", "scale": {"domain": ["243 K","275 K","243 K (inset)","275 K (inset)"], "range": ["#9D20DA","#F7811F","#5B1F87","#E8B33D"]}, "legend": null}}},
 {"data": {"name": "notes"}, "transform": [{"filter": "datum.panel === 'TDA' && datum.kind === 'wet'"}], "mark": {"type": "text", "fontSize": 20, "font": "Liberation Sans", "color": "#333"},
  "encoding": {"text": {"field": "label"}}}
]
},
{
"encoding": {
 "x": {"field": "x", "type": "quantitative", "scale": {"domain": [-0.45, 7.1], "range": [0, 153], "nice": false, "zero": false, "clamp": true},
   "axis": {"title": null, "orient": "bottom", "offset": -160, "values": [0,1,2,3,4,5,6,7], "labelExpr": "datum.value % 2 === 0 ? '' + datum.value : ''", "tickSize": {"condition": {"test": "datum.value % 2 === 0", "value": 4}, "value": 2}, "labelFontSize": 14, "labelPadding": 2}},
 "y": {"field": "y", "type": "quantitative", "scale": {"domain": [-2.6, 17.2], "range": [114, 0], "nice": false, "zero": false, "clamp": true},
   "axis": {"title": null, "orient": "right", "offset": -189, "values": [-2.5,0,2.5,5,7.5,10,12.5,15], "labelExpr": "datum.value % 5 === 0 ? '' + datum.value : ''", "tickSize": {"condition": {"test": "datum.value % 5 === 0", "value": 4}, "value": 2}, "labelFontSize": 14, "labelPadding": 3}}
},
"layer": [
 {"data": {"name": "frame"}, "mark": {"type": "rect", "fill": "white", "stroke": "#222", "strokeWidth": 1.5}, "encoding": {"x2": {"field": "x2"}, "y2": {"field": "y2"}}},
 {"data": {"name": "inset"}, "transform": [{"filter": "datum.panel === 'TDA'"}], "mark": {"type": "line", "strokeWidth": 2.8},
  "encoding": {"color": {"field": "series", "type": "nominal", "scale": {"domain": ["243 K","275 K","243 K (inset)","275 K (inset)"], "range": ["#9D20DA","#F7811F","#5B1F87","#E8B33D"]}, "legend": null}, "detail": {"field": "branch"}, "order": {"field": "idx"}}},
 {"data": {"name": "notes"}, "transform": [{"filter": "datum.panel === 'TDA' && datum.kind === 'dry'"}], "mark": {"type": "text", "fontSize": 16, "font": "Liberation Sans", "color": "#333"},
  "encoding": {"text": {"field": "label"}}}
]
}
]
},
{"width": 86, "height": 274, "view": {"stroke": null}, "data": {"name": "blank"}, "mark": {"type": "point", "opacity": 0}},
{
"width": 341, "height": 274,
"title": {"text": "TEO", "dx": 15},
"resolve": {"scale": {"x": "independent", "y": "independent"}, "axis": {"x": "independent", "y": "independent"}},
"layer": [
{
"encoding": {
 "x": {"field": "x", "type": "quantitative", "scale": {"domain": [-0.5, 7], "nice": false, "zero": false},
   "axis": {"title": "Pressure / MPa", "values": [0,0.5,1,1.5,2,2.5,3,3.5,4,4.5,5,5.5,6,6.5,7], "labelExpr": "datum.value % 1 === 0 ? '' + datum.value : ''", "tickSize": {"condition": {"test": "datum.value % 1 === 0", "value": 6}, "value": 3}, "labelFontSize": 21, "titleFontSize": 19, "labelPadding": 2, "titlePadding": 16}},
 "y": {"field": "y", "type": "quantitative", "scale": {"domain": [-2.5, 40], "nice": false, "zero": false},
   "axis": {"title": "Ads.CH₄ / cm³gₜₒₜₐₗ⁻¹", "values": [0,5,10,15,20,25,30,35,40], "labelExpr": "datum.value % 10 === 0 ? '' + datum.value : ''", "tickSize": {"condition": {"test": "datum.value % 10 === 0", "value": 6}, "value": 3}, "labelFontSize": 21, "titleFontSize": 19, "labelPadding": 1, "titlePadding": 11, "titleY": 169}}
},
"layer": [
 {"data": {"name": "main"}, "transform": [{"filter": "datum.panel === 'TEO'"}], "mark": {"type": "line", "strokeWidth": 3.5},
  "encoding": {"color": {"field": "series", "type": "nominal", "scale": {"domain": ["243 K","275 K","243 K (inset)","275 K (inset)"], "range": ["#9D20DA","#F7811F","#5B1F87","#E8B33D"]}, "legend": null},
   "order": {"field": "idx"}}},
 {"data": {"name": "main"}, "transform": [{"filter": "datum.panel === 'TEO' && datum.branch === 'ads'"}], "mark": {"type": "point", "shape": "square", "filled": true, "size": 28, "opacity": 1},
  "encoding": {"color": {"field": "series", "type": "nominal", "scale": {"domain": ["243 K","275 K","243 K (inset)","275 K (inset)"], "range": ["#9D20DA","#F7811F","#5B1F87","#E8B33D"]}, "legend": null}}},
 {"data": {"name": "main"}, "transform": [{"filter": "datum.panel === 'TEO' && datum.branch === 'des'"}], "mark": {"type": "point", "shape": "square", "filled": false, "fill": "white", "size": 45, "strokeWidth": 1.3, "opacity": 1},
  "encoding": {"color": {"field": "series", "type": "nominal", "scale": {"domain": ["243 K","275 K","243 K (inset)","275 K (inset)"], "range": ["#9D20DA","#F7811F","#5B1F87","#E8B33D"]}, "legend": null}}},
 {"data": {"name": "arrows"}, "transform": [{"filter": "datum.panel === 'TEO'"}], "mark": {"type": "rule", "strokeWidth": 1.3, "opacity": 0.8},
  "encoding": {"x2": {"field": "x2"}, "y2": {"field": "y2"}, "color": {"field": "series", "type": "nominal", "scale": {"domain": ["243 K","275 K","243 K (inset)","275 K (inset)"], "range": ["#9D20DA","#F7811F","#5B1F87","#E8B33D"]}, "legend": null}}},
 {"data": {"name": "arrows"}, "transform": [{"filter": "datum.panel === 'TEO'"}], "mark": {"type": "point", "shape": "triangle-up", "filled": true, "size": 70, "opacity": 1},
  "encoding": {"x": {"field": "x2", "type": "quantitative"}, "y": {"field": "y2", "type": "quantitative"},
   "angle": {"field": "dir", "type": "nominal", "scale": {"domain": ["left","right","down-left","left-down","up-right","right-up","down"], "range": [270, 90, 210, 240, 35, 68, 180]}, "legend": null},
   "color": {"field": "series", "type": "nominal", "scale": {"domain": ["243 K","275 K","243 K (inset)","275 K (inset)"], "range": ["#9D20DA","#F7811F","#5B1F87","#E8B33D"]}, "legend": null}}},
 {"data": {"name": "notes"}, "transform": [{"filter": "datum.panel === 'TEO' && datum.kind === 'wet'"}], "mark": {"type": "text", "fontSize": 20, "font": "Liberation Sans", "color": "#333"},
  "encoding": {"text": {"field": "label"}}}
]
},
{
"encoding": {
 "x": {"field": "x", "type": "quantitative", "scale": {"domain": [-0.45, 7.1], "range": [0, 153], "nice": false, "zero": false, "clamp": true},
   "axis": {"title": null, "orient": "bottom", "offset": -160, "values": [0,1,2,3,4,5,6,7], "labelExpr": "datum.value % 2 === 0 ? '' + datum.value : ''", "tickSize": {"condition": {"test": "datum.value % 2 === 0", "value": 4}, "value": 2}, "labelFontSize": 14, "labelPadding": 2}},
 "y": {"field": "y", "type": "quantitative", "scale": {"domain": [-2.6, 17.2], "range": [114, 0], "nice": false, "zero": false, "clamp": true},
   "axis": {"title": null, "orient": "right", "offset": -188, "values": [-2.5,0,2.5,5,7.5,10,12.5,15], "labelExpr": "datum.value % 5 === 0 ? '' + datum.value : ''", "tickSize": {"condition": {"test": "datum.value % 5 === 0", "value": 4}, "value": 2}, "labelFontSize": 14, "labelPadding": 3}}
},
"layer": [
 {"data": {"name": "frame"}, "mark": {"type": "rect", "fill": "white", "stroke": "#222", "strokeWidth": 1.5}, "encoding": {"x2": {"field": "x2"}, "y2": {"field": "y2"}}},
 {"data": {"name": "inset"}, "transform": [{"filter": "datum.panel === 'TEO'"}], "mark": {"type": "line", "strokeWidth": 2.8},
  "encoding": {"color": {"field": "series", "type": "nominal", "scale": {"domain": ["243 K","275 K","243 K (inset)","275 K (inset)"], "range": ["#9D20DA","#F7811F","#5B1F87","#E8B33D"]}, "legend": null}, "detail": {"field": "branch"}, "order": {"field": "idx"}}},
 {"data": {"name": "notes"}, "transform": [{"filter": "datum.panel === 'TEO' && datum.kind === 'dry'"}], "mark": {"type": "text", "fontSize": 16, "font": "Liberation Sans", "color": "#333"},
  "encoding": {"text": {"field": "label"}}}
]
}
]
},
{"width": 102, "height": 274, "view": {"stroke": null}, "data": {"name": "blank"}, "mark": {"type": "point", "opacity": 0}},
{
"width": 340, "height": 274,
"title": {"text": "TBA", "dx": 7},
"resolve": {"scale": {"x": "independent", "y": "independent"}, "axis": {"x": "independent", "y": "independent"}},
"layer": [
{
"encoding": {
 "x": {"field": "x", "type": "quantitative", "scale": {"domain": [-0.5, 7], "nice": false, "zero": false},
   "axis": {"title": "Pressure / MPa", "values": [0,0.5,1,1.5,2,2.5,3,3.5,4,4.5,5,5.5,6,6.5,7], "labelExpr": "datum.value % 1 === 0 ? '' + datum.value : ''", "tickSize": {"condition": {"test": "datum.value % 1 === 0", "value": 6}, "value": 3}, "labelFontSize": 21, "titleFontSize": 19, "labelPadding": 2, "titlePadding": 16}},
 "y": {"field": "y", "type": "quantitative", "scale": {"domain": [-2.5, 60], "nice": false, "zero": false},
   "axis": {"title": "Ads.CH₄ / cm³gₜₒₜₐₗ⁻¹", "values": [0,5,10,15,20,25,30,35,40,45,50,55,60], "labelExpr": "datum.value % 10 === 0 ? '' + datum.value : ''", "tickSize": {"condition": {"test": "datum.value % 10 === 0", "value": 6}, "value": 3}, "labelFontSize": 21, "titleFontSize": 19, "labelPadding": 1, "titlePadding": 11, "titleY": 169}}
},
"layer": [
 {"data": {"name": "main"}, "transform": [{"filter": "datum.panel === 'TBA'"}], "mark": {"type": "line", "strokeWidth": 3.5},
  "encoding": {"color": {"field": "series", "type": "nominal", "scale": {"domain": ["243 K","275 K","243 K (inset)","275 K (inset)"], "range": ["#9D20DA","#F7811F","#5B1F87","#E8B33D"]}, "legend": null},
   "order": {"field": "idx"}}},
 {"data": {"name": "main"}, "transform": [{"filter": "datum.panel === 'TBA' && datum.branch === 'ads'"}], "mark": {"type": "point", "shape": "square", "filled": true, "size": 28, "opacity": 1},
  "encoding": {"color": {"field": "series", "type": "nominal", "scale": {"domain": ["243 K","275 K","243 K (inset)","275 K (inset)"], "range": ["#9D20DA","#F7811F","#5B1F87","#E8B33D"]}, "legend": null}}},
 {"data": {"name": "main"}, "transform": [{"filter": "datum.panel === 'TBA' && datum.branch === 'des'"}], "mark": {"type": "point", "shape": "square", "filled": false, "fill": "white", "size": 45, "strokeWidth": 1.3, "opacity": 1},
  "encoding": {"color": {"field": "series", "type": "nominal", "scale": {"domain": ["243 K","275 K","243 K (inset)","275 K (inset)"], "range": ["#9D20DA","#F7811F","#5B1F87","#E8B33D"]}, "legend": null}}},
 {"data": {"name": "arrows"}, "transform": [{"filter": "datum.panel === 'TBA'"}], "mark": {"type": "rule", "strokeWidth": 1.3, "opacity": 0.8},
  "encoding": {"x2": {"field": "x2"}, "y2": {"field": "y2"}, "color": {"field": "series", "type": "nominal", "scale": {"domain": ["243 K","275 K","243 K (inset)","275 K (inset)"], "range": ["#9D20DA","#F7811F","#5B1F87","#E8B33D"]}, "legend": null}}},
 {"data": {"name": "arrows"}, "transform": [{"filter": "datum.panel === 'TBA'"}], "mark": {"type": "point", "shape": "triangle-up", "filled": true, "size": 70, "opacity": 1},
  "encoding": {"x": {"field": "x2", "type": "quantitative"}, "y": {"field": "y2", "type": "quantitative"},
   "angle": {"field": "dir", "type": "nominal", "scale": {"domain": ["left","right","down-left","left-down","up-right","right-up","down"], "range": [270, 90, 210, 240, 35, 68, 180]}, "legend": null},
   "color": {"field": "series", "type": "nominal", "scale": {"domain": ["243 K","275 K","243 K (inset)","275 K (inset)"], "range": ["#9D20DA","#F7811F","#5B1F87","#E8B33D"]}, "legend": null}}},
 {"data": {"name": "notes"}, "transform": [{"filter": "datum.panel === 'TBA' && datum.kind === 'wet'"}], "mark": {"type": "text", "fontSize": 20, "font": "Liberation Sans", "color": "#333"},
  "encoding": {"text": {"field": "label"}}}
]
},
{
"encoding": {
 "x": {"field": "x", "type": "quantitative", "scale": {"domain": [-0.45, 7.1], "range": [0, 153], "nice": false, "zero": false, "clamp": true},
   "axis": {"title": null, "orient": "bottom", "offset": -160, "values": [0,1,2,3,4,5,6,7], "labelExpr": "datum.value % 2 === 0 ? '' + datum.value : ''", "tickSize": {"condition": {"test": "datum.value % 2 === 0", "value": 4}, "value": 2}, "labelFontSize": 14, "labelPadding": 2}},
 "y": {"field": "y", "type": "quantitative", "scale": {"domain": [-2.6, 17.2], "range": [114, 0], "nice": false, "zero": false, "clamp": true},
   "axis": {"title": null, "orient": "right", "offset": -187, "values": [-2.5,0,2.5,5,7.5,10,12.5,15], "labelExpr": "datum.value % 5 === 0 ? '' + datum.value : ''", "tickSize": {"condition": {"test": "datum.value % 5 === 0", "value": 4}, "value": 2}, "labelFontSize": 14, "labelPadding": 3}}
},
"layer": [
 {"data": {"name": "frame"}, "mark": {"type": "rect", "fill": "white", "stroke": "#222", "strokeWidth": 1.5}, "encoding": {"x2": {"field": "x2"}, "y2": {"field": "y2"}}},
 {"data": {"name": "inset"}, "transform": [{"filter": "datum.panel === 'TBA'"}], "mark": {"type": "line", "strokeWidth": 2.8},
  "encoding": {"color": {"field": "series", "type": "nominal", "scale": {"domain": ["243 K","275 K","243 K (inset)","275 K (inset)"], "range": ["#9D20DA","#F7811F","#5B1F87","#E8B33D"]}, "legend": null}, "detail": {"field": "branch"}, "order": {"field": "idx"}}},
 {"data": {"name": "notes"}, "transform": [{"filter": "datum.panel === 'TBA' && datum.kind === 'dry'"}], "mark": {"type": "text", "fontSize": 16, "font": "Liberation Sans", "color": "#333"},
  "encoding": {"text": {"field": "label"}}}
]
}
]
}
]
}
